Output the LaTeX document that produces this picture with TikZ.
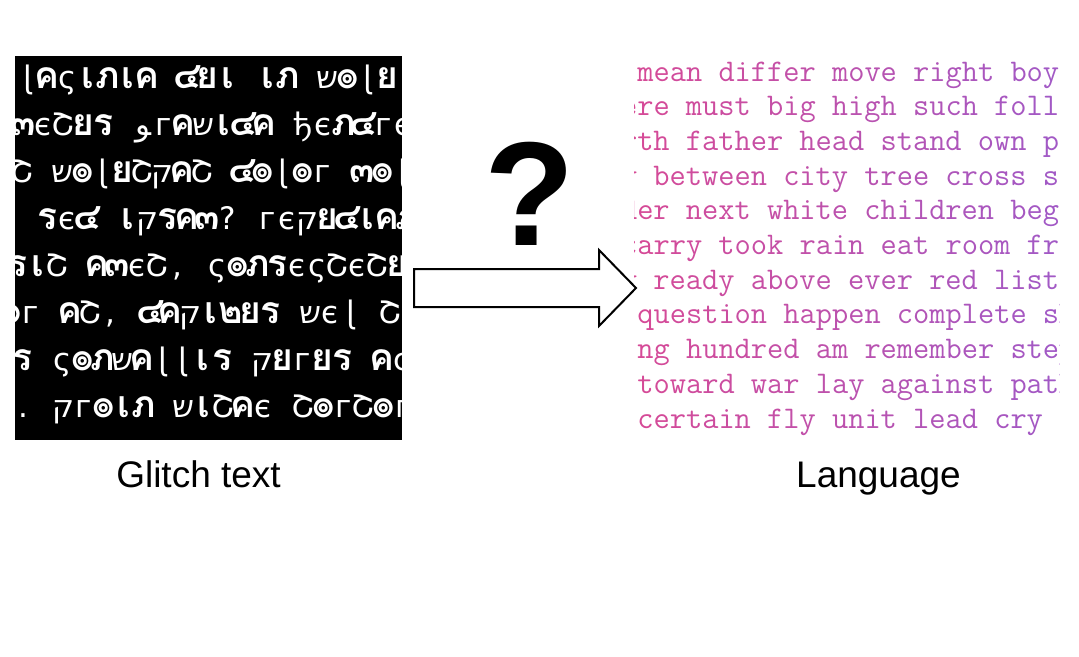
\documentclass[tikz,border=0pt]{standalone}
\usepackage{fontspec}
\newfontfamily\glfont{DejaVu Sans}
\newfontfamily\thaifont[Script=Thai,Scale=1.2]{Loma}
\newfontfamily\labelfont{Liberation Sans}

% Thai letters of the glitch text are taken from Loma
\XeTeXinterchartokenstate=1
\newXeTeXintercharclass\thaiclass
\count255="0E01
\loop
  \XeTeXcharclass\count255=\thaiclass
  \advance\count255 by 1
\ifnum\count255<"0E5C \repeat
\XeTeXinterchartoks 0 \thaiclass = {\thaifont\bfseries}
\XeTeXinterchartoks 4095 \thaiclass = {\thaifont\bfseries}
\XeTeXinterchartoks \thaiclass 0 = {\glfont\mdseries}
\XeTeXinterchartoks \thaiclass 4095 = {\glfont\mdseries}

% single letters that stand for p, v and g
\newcommand\qof{\char"05E7\relax}
\newcommand\shin{\char"05E9\relax}
\newcommand\waw{\char"FEEE\relax}

\definecolor{langpink}{HTML}{D64A96}
\definecolor{langviolet}{HTML}{A159C6}

\makeatletter
\newcount\lgcol
% one glyph per fixed cell
\newcommand\glitchline[1]{\@tfor\gl@c:=#1\do{\makebox[20pt]{\gl@c}}}
% pink to violet, column by column
\newcommand\langline[2]{%
  \lgcol=#1\relax
  \def\lg@run##1{\@tfor\lg@c:=##1\do{%
    \pgfmathsetmacro\lg@p{max(0,min(100,(\lgcol+0.5)*100/26))}%
    \textcolor{langviolet!\lg@p!langpink}{\lg@c}%
    \advance\lgcol by 1\relax}}%
  \expandafter\lg@run\expandafter{#2}}
\makeatother

\begin{document}
\begin{tikzpicture}[x=1pt, y=-1pt, thick,
  glyphs/.style={anchor=base west, inner sep=0pt, text=white,
    font=\glfont\fontsize{31}{36}\selectfont},
  words/.style={anchor=base west, inner sep=0pt,
    font=\ttfamily\fontsize{31.5}{36}\selectfont},
  caption/.style={anchor=base, inner sep=0pt,
    font=\labelfont\fontsize{37}{44}\selectfont}]
  \useasboundingbox (0,0) rectangle (1079,656);

  % glitch panel
  \fill[black] (15,56) rectangle (402,440);
  \begin{scope}
    \clip (15,56) rectangle (402,440);
    \node[glyphs] (g1) at (17,88)  {\glitchline{ɭคςเภเค~๔ยเ~เภ~\shin ๏ɭย}};
    \node[glyphs] (g2) at (13,135) {\glitchline{๓єՇยร~\waw гค\shin เ๔ค~ђєภ๔гє}};
    \node[glyphs] (g3) at (12,182) {\glitchline{Շ~\shin ๏ɭยՇ\qof คՇ~๔๏ɭ๏г~๓๏ɭ}};
    \node[glyphs] (g4) at (17,229) {\glitchline{~รє๔~เ\qof รค๓?~гє\qof ย๔เคภ}};
    \node[glyphs] (g5) at (7,276)  {\glitchline{รเՇ~ค๓єՇ,~ς๏ภรєςՇєՇย}};
    \node[glyphs] (g6) at (0,323)  {\glitchline{๏г~คՇ,~๔ค\qof เ๒ยร~\shin єɭ~Շє}};
    \node[glyphs] (g7) at (12,370) {\glitchline{ร~ς๏ภ\shin คɭɭเร~\qof ยгยร~คς}};
    \node[glyphs] (g8) at (13,417) {\glitchline{.~\qof г๏เภ~\shin เՇคє~Շ๏гՇ๏г}};
  \end{scope}
  \node[caption] (glitchcap) at (198.5,487) {Glitch text};

  % language panel
  \begin{scope}
    \clip (634,50) rectangle (1059,445);
    \foreach \t/\c [count=\r from 0] in {
        mean~differ~move~right~boy/0,
        here~must~big~high~such~follow/-2,
        north~father~head~stand~own~page/-3,
        dry~between~city~tree~cross~sea/-3,
        under~next~white~children~begin/-3,
        carry~took~rain~eat~room~friend/-1,
        say~ready~above~ever~red~list/-3,
        question~happen~complete~ship/0,
        ng~hundred~am~remember~step/0,
        toward~war~lay~against~path/0,
        certain~fly~unit~lead~cry/0}
      \node[words] (lang\r) at ({637+\c*16.275},{81+34.7*\r}) {\langline{\c}{\t}};
  \end{scope}
  \node[caption] (langcap) at (878.5,487) {Language};

  % arrow and question mark
  \draw[line width=2pt, fill=white] (414,269) -- (599,269) -- (599,250)
    -- (636,288) -- (599,326) -- (599,307) -- (414,307) -- cycle;
  \node[anchor=base, inner sep=0pt,
    font=\labelfont\bfseries\fontsize{148}{150}\selectfont] (qmark) at (530,245) {?};
\end{tikzpicture}
\end{document}
